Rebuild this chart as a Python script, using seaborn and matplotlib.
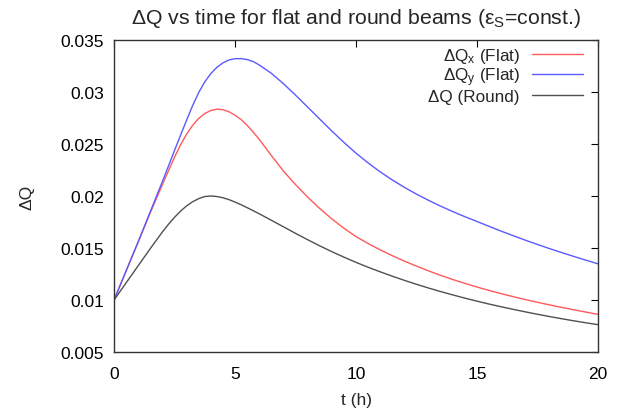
import numpy as np
import pandas as pd
import matplotlib
matplotlib.use("Agg")
import matplotlib.pyplot as plt
from matplotlib.ticker import FuncFormatter
import seaborn as sns

# ---- data ----
t_h = [0, 0.5, 1.0, 1.5, 1.75, 2.0, 2.25, 2.5, 2.75, 3.0, 3.25, 3.5, 3.75, 4.0,
       4.25, 4.5, 4.75, 5.0, 5.25, 5.5, 5.75, 6.0, 6.5, 7.0, 7.5, 8.0, 8.5, 9.0,
       9.5, 10.0, 10.5, 11.0, 11.5, 12.0, 12.5, 13.0, 13.5, 14.0, 14.5, 15.0,
       15.5, 16.0, 16.5, 17.0, 17.5, 18.0, 18.5, 19.0, 19.5, 20.0]

dq_x_flat = [0.0100, 0.0128, 0.0156, 0.0184, 0.01975, 0.0211, 0.02243, 0.02373,
             0.02492, 0.02595, 0.02680, 0.02746, 0.02793, 0.02822, 0.02835, 0.02830,
             0.02810, 0.02777, 0.02735, 0.0268, 0.02615, 0.02545, 0.0239, 0.0224,
             0.0211, 0.0199, 0.0188, 0.0178, 0.0169, 0.0161, 0.01543, 0.01482,
             0.01426, 0.01374, 0.01326, 0.0128, 0.01237, 0.01197, 0.0116,
             0.01125, 0.01092, 0.01061, 0.01032, 0.01004, 0.00978, 0.00953,
             0.00929, 0.00906, 0.00884, 0.00862]

dq_y_flat = [0.0100, 0.0128, 0.0156, 0.0185, 0.01995, 0.0214, 0.02288, 0.02438,
             0.02585, 0.0273, 0.0287, 0.02995, 0.03097, 0.03177, 0.03237, 0.0328,
             0.03308, 0.0332, 0.03321, 0.03312, 0.03293, 0.0326, 0.0318, 0.0308,
             0.0297, 0.02855, 0.0274, 0.02625, 0.02515, 0.02412, 0.02318, 0.02232,
             0.02154, 0.02083, 0.02018, 0.01958, 0.01902, 0.0185, 0.01801,
             0.01755, 0.01708, 0.01662, 0.01618, 0.01575, 0.01534, 0.01494,
             0.01456, 0.01419, 0.01383, 0.01348]

dq_round = [0.0100, 0.01165, 0.0133, 0.01495, 0.01575, 0.01655, 0.01728, 0.01795,
            0.01855, 0.01905, 0.01945, 0.01975, 0.01995, 0.0200, 0.01995, 0.01983,
            0.01965, 0.01942, 0.01916, 0.01888, 0.01859, 0.01829, 0.01767, 0.01704,
            0.01641, 0.0158, 0.01521, 0.01465, 0.01412, 0.01362, 0.01315, 0.01271,
            0.01229, 0.01189, 0.01151, 0.01115, 0.01081, 0.01049, 0.01018,
            0.00989, 0.00961, 0.00935, 0.0091, 0.00886, 0.00863, 0.00841,
            0.0082, 0.0080, 0.00781, 0.00763]

labels = [r"ΔQ$_\mathregular{x}$ (Flat)",
          r"ΔQ$_\mathregular{y}$ (Flat)",
          r"ΔQ (Round)"]
colors = ["#ff5a5a", "#5a5aff", "#505050"]

x_ticks = [0, 5, 10, 15, 20]
y_ticks = [0.005, 0.01, 0.015, 0.02, 0.025, 0.03, 0.035]

df = pd.concat([
    pd.DataFrame({"t": t_h, "dq": dq_x_flat, "series": labels[0]}),
    pd.DataFrame({"t": t_h, "dq": dq_y_flat, "series": labels[1]}),
    pd.DataFrame({"t": t_h, "dq": dq_round, "series": labels[2]}),
])

sns.set_theme(style="white")
plt.rcParams["font.family"] = ["Liberation Sans", "DejaVu Sans"]
plt.rcParams["mathtext.fontset"] = "custom"
plt.rcParams["mathtext.rm"] = "Liberation Sans"
plt.rcParams["mathtext.it"] = "Liberation Sans:italic"

fig = plt.figure(figsize=(6.31, 4.14), dpi=100)
ax = fig.add_axes([0.1807, 0.1473, 0.767, 0.7537])

sns.lineplot(data=df, x="t", y="dq", hue="series", palette=dict(zip(labels, colors)),
             linewidth=1.0, ax=ax, legend=True)

ax.set_xlim(0, 20)
ax.set_ylim(0.005, 0.035)
ax.set_xticks(x_ticks)
ax.set_yticks(y_ticks)
ax.yaxis.set_major_formatter(FuncFormatter(lambda v, p: "%g" % round(v, 4)))
ax.xaxis.set_major_formatter(FuncFormatter(lambda v, p: "%g" % v))
ax.tick_params(direction="in", length=5, width=0.8, top=True, right=True,
               labelsize=12.5, colors="black", pad=7)
ax.tick_params(axis="x", pad=10)
for s in ax.spines.values():
    s.set_visible(True)
    s.set_color("#333333")
    s.set_linewidth(1.0)

ax.set_xlabel("t (h)", fontsize=12.5, labelpad=8)
ax.set_ylabel("ΔQ", fontsize=12.5, labelpad=19)
ax.set_title(r"ΔQ vs time for flat and round beams (ε$_\mathregular{S}$=const.)",
             fontsize=15.3, pad=12)

h, l = ax.get_legend_handles_labels()
leg = ax.legend(h, l, loc="upper right", bbox_to_anchor=(0.99, 1.015), frameon=False,
                markerfirst=False, fontsize=12.3, handlelength=3.0,
                labelspacing=0.05, handletextpad=0.7, borderaxespad=0.2)
for txt in leg.get_texts():
    txt.set_ha("right")

fig.savefig("out.png", dpi=100, facecolor="white")
